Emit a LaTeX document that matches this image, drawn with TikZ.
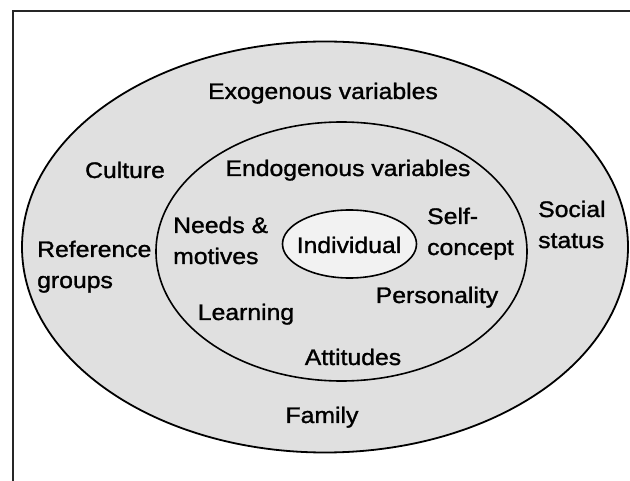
\documentclass[tikz,border=0pt]{standalone}
\usepackage{fontspec}
\setmainfont{Liberation Sans}[FakeStretch=1.1,FakeBold=1.3]
\usetikzlibrary{shapes.geometric}
\begin{document}
\begin{tikzpicture}[x=1pt,y=-1pt,
  ring/.style={ellipse,draw=black,inner sep=0pt,line width=1.6pt},
  lbl/.style={inner sep=0pt,font=\fontsize{22.5}{31}\selectfont},
  lbl2/.style={lbl,align=left,anchor=base west}]
\useasboundingbox (0,0) rectangle (630,481);
\fill[white] (0,0) rectangle (630,481);
% page frame, cut off at the right and bottom
\draw[line width=1.6pt,black!85] (13,481) -- (13,11) -- (630,11);
% nested ellipses
\node[ring,fill=gray!24,line width=1.8pt,minimum width=606pt,minimum height=411pt] (exo) at (325,247) {};
\node[ring,fill=gray!24,minimum width=371pt,minimum height=259pt] (endo) at (341.5,251.5) {};
\node[ring,fill=gray!10,minimum width=134pt,minimum height=68pt,lbl] (ind) at (349.5,244) {};
\node[lbl,anchor=base] (indt) at (349,253) {Individual};
% outer ring labels (two-line labels are placed by their last baseline)
\node[lbl,anchor=base] (exot) at (323,99) {Exogenous variables};
\node[lbl,anchor=base] (cult) at (125,178) {Culture};
\node[lbl2] (ref) at (37,288) {Reference\\groups};
\node[lbl2] (soc) at (538,248) {Social\\status};
\node[lbl,anchor=base] (fam) at (322,423) {Family};
% inner ring labels
\node[lbl,anchor=base] (endot) at (348,176) {Endogenous variables};
\node[lbl2] (need) at (173,264) {Needs \&\\motives};
\node[lbl2] (self) at (427,255) {Self-\\concept};
\node[lbl,anchor=base] (learn) at (246,320) {Learning};
\node[lbl,anchor=base] (pers) at (437,303) {Personality};
\node[lbl,anchor=base] (att) at (353,365) {Attitudes};
\end{tikzpicture}
\end{document}
